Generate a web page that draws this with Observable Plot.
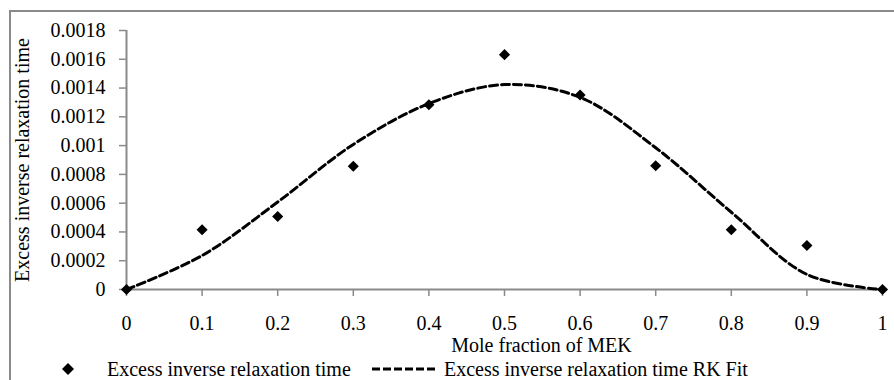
<!DOCTYPE html>
<html>
<head>
<meta charset="utf-8">
<script src="https://cdn.jsdelivr.net/npm/d3@7"></script>
<script src="https://cdn.jsdelivr.net/npm/@observablehq/plot@0.6"></script>
<style>
  html, body { margin: 0; padding: 0; background: #fff; }
  body { width: 894px; height: 380px; position: relative; overflow: hidden;
         font-family: "Liberation Serif", "Times New Roman", serif; }
  #frame { position: absolute; left: 9px; top: 10px; width: 920px; height: 420px;
           border-left: 2px solid #8a8a8a; border-top: 2px solid #8a8a8a; }
  #chart { position: absolute; left: 0; top: 0; }
  #chart svg text { font-family: "Liberation Serif", "Times New Roman", serif !important; font-size: 20px !important; }
  #legend { position: absolute; left: 0; top: 358px; width: 894px; height: 22px;
            font-size: 20px; color: #000; }
  #legend .item { position: absolute; top: 0; line-height: 22px; white-space: nowrap; }
  #legend svg { position: absolute; top: 0; }
</style>
</head>
<body>
<div id="frame"></div>
<div id="chart"></div>
<div id="legend"></div>
<script>
// ---- data ----
const moleFraction = [0, 0.1, 0.2, 0.3, 0.4, 0.5, 0.6, 0.7, 0.8, 0.9, 1];
const excessInverse = [0, 0.000415, 0.000507, 0.000857, 0.001284, 0.001632, 0.001352, 0.000860, 0.000415, 0.000306, 0];
const rkFit = [0, 0.000236, 0.000608, 0.001008, 0.001292, 0.001424, 0.001335, 0.000985, 0.000537, 0.000105, 0];
const xTicks = [0, 0.1, 0.2, 0.3, 0.4, 0.5, 0.6, 0.7, 0.8, 0.9, 1];
const yTicks = [0, 0.0002, 0.0004, 0.0006, 0.0008, 0.001, 0.0012, 0.0014, 0.0016, 0.0018];
const xLabel = "Mole fraction of MEK";
const yLabel = "Excess inverse relaxation time";
const seriesNames = ["Excess inverse relaxation time", "Excess inverse relaxation time RK Fit"];

const points = moleFraction.map((x, i) => ({x, y: excessInverse[i]}));
const fit = moleFraction.map((x, i) => ({x, y: rkFit[i]}));

const axisColor = "#8a8a8a";
const fam = "Liberation Serif, Times New Roman, serif";
const yFmt = d => d === 0 ? "0" : String(+d.toFixed(4));

const chart = Plot.plot({
  width: 894,
  height: 380,
  marginLeft: 126,
  marginRight: 12,
  marginTop: 30,
  marginBottom: 91,
  style: {fontFamily: fam, fontSize: "20px", color: "#000", background: "transparent", overflow: "visible"},
  x: {domain: [0, 1], label: null},
  y: {domain: [0, 0.0018], label: null},
  marks: [
    Plot.axisX({ticks: xTicks, tickSize: 7, tickPadding: 19, stroke: axisColor, strokeWidth: 1.5, tickFormat: d => String(d), label: null, fontSize: 20, fontFamily: fam, fill: "#000"}),
    Plot.axisY({ticks: yTicks, tickSize: 7, tickPadding: 14, stroke: axisColor, strokeWidth: 1.5, tickFormat: yFmt, label: null, fontSize: 20, fontFamily: fam, fill: "#000"}),
    Plot.ruleY([0], {stroke: axisColor, strokeWidth: 2}),
    Plot.ruleX([0], {stroke: axisColor, strokeWidth: 2}),
    Plot.line(fit, {x: "x", y: "y", curve: "catmull-rom", stroke: "#000", strokeWidth: 3, strokeDasharray: "8,4"}),
    Plot.dot(points, {x: "x", y: "y", symbol: "diamond2", r: 5, fill: "#000", stroke: null}),
    Plot.text([xLabel], {frameAnchor: "bottom", lineAnchor: "middle", textAnchor: "middle", dx: 37, dy: 56, text: d => d, fill: "#000", fontSize: 20, fontFamily: fam}),
    Plot.text([yLabel], {frameAnchor: "left", textAnchor: "middle", lineAnchor: "middle", rotate: -90, dx: -104, text: d => d, fill: "#000", fontSize: 20, fontFamily: fam})
  ]
});
document.getElementById("chart").appendChild(chart);

// legend
const legend = document.getElementById("legend");
legend.innerHTML = `
  <svg width="14" height="22" style="left:61px"><polygon points="7,5 13,11 7,17 1,11" fill="#000"/></svg>
  <div class="item" style="left:107px">${seriesNames[0]}</div>
  <svg width="68" height="22" style="left:371px"><line x1="1" y1="11" x2="66" y2="11" stroke="#000" stroke-width="3" stroke-dasharray="8,3"/></svg>
  <div class="item" style="left:444px">${seriesNames[1]}</div>
`;
</script>
</body>
</html>
